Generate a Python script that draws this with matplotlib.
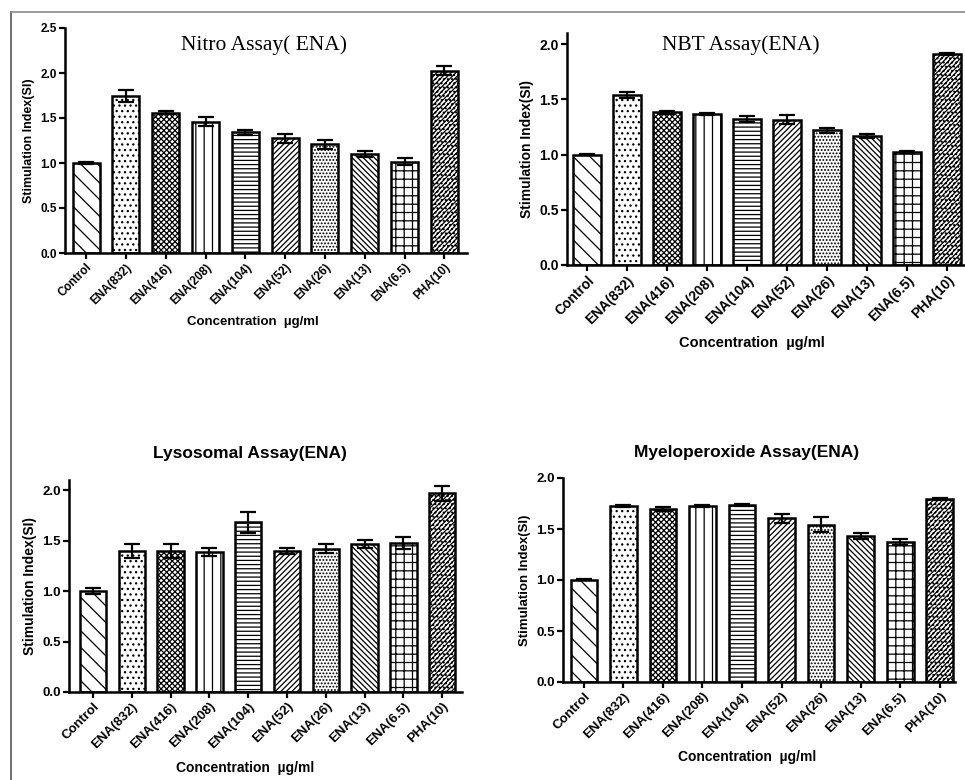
import matplotlib
matplotlib.use('Agg')
import matplotlib.pyplot as plt
from matplotlib.lines import Line2D

categories = ['Control', 'ENA(832)', 'ENA(416)', 'ENA(208)', 'ENA(104)',
              'ENA(52)', 'ENA(26)', 'ENA(13)', 'ENA(6.5)', 'PHA(10)']

nitro_si = [1.00, 1.745, 1.56, 1.457, 1.342, 1.276, 1.209, 1.10, 1.013, 2.023]
nitro_err = [0.012, 0.065, 0.02, 0.05, 0.03, 0.05, 0.05, 0.03, 0.04, 0.05]

nbt_si = [1.00, 1.541, 1.381, 1.369, 1.320, 1.317, 1.218, 1.166, 1.021, 1.912]
nbt_err = [0.005, 0.027, 0.012, 0.01, 0.03, 0.04, 0.02, 0.02, 0.01, 0.01]

lyso_si = [1.00, 1.40, 1.40, 1.39, 1.68, 1.395, 1.42, 1.465, 1.48, 1.967]
lyso_err = [0.026, 0.07, 0.07, 0.04, 0.107, 0.03, 0.046, 0.036, 0.06, 0.073]

myelo_si = [1.003, 1.729, 1.696, 1.725, 1.735, 1.605, 1.542, 1.431, 1.376, 1.794]
myelo_err = [0.005, 0.01, 0.015, 0.01, 0.01, 0.045, 0.075, 0.03, 0.03, 0.012]

hatches = ['\\\\', '...', 'xxxxxx', '||', '----', '//////', '.....',
           '\\\\\\\\\\\\', '++', '///////....']

plt.rcParams['hatch.linewidth'] = 0.9
SANS = ['Liberation Sans', 'DejaVu Sans']
SERIF = ['Liberation Serif', 'DejaVu Serif']

W, H = 965, 780
fig = plt.figure(figsize=(W / 100, H / 100), dpi=100)


def px_axes(left, right, top, bottom):
    return fig.add_axes([left / W, 1 - bottom / H, (right - left) / W, (bottom - top) / H])


def draw(ax, vals, errs, ylim, yticks, xlim, tick_fs, ylabel_fs):
    x = list(range(len(categories)))
    bars = ax.bar(x, vals, width=0.68, color='white', edgecolor='black',
                  linewidth=1.8, zorder=2)
    for b, h in zip(bars, hatches):
        b.set_hatch(h)
    ax.errorbar(x, vals, yerr=errs, fmt='none', ecolor='black', elinewidth=1.6,
                capsize=6, capthick=1.6, zorder=3)
    ax.set_ylim(*ylim)
    ax.set_xlim(*xlim)
    ax.set_yticks(yticks)
    ax.set_yticklabels([f'{t:.1f}' for t in yticks], fontfamily=SANS,
                       fontweight='bold', fontsize=tick_fs)
    ax.set_xticks(x)
    ax.set_xticklabels(categories, rotation=45, ha='right', rotation_mode='anchor',
                       fontfamily=SANS, fontweight='bold', fontsize=tick_fs)
    for s in ['top', 'right']:
        ax.spines[s].set_visible(False)
    for s in ['left', 'bottom']:
        ax.spines[s].set_linewidth(1.8)
    ax.tick_params(axis='both', direction='out', length=4, width=1.6, pad=2)
    ax.set_ylabel('Stimulation Index(SI)', fontfamily=SANS, fontweight='bold',
                  fontsize=ylabel_fs, labelpad=4)


# Panel 1: Nitro
ax1 = px_axes(65, 467, 28, 253)
draw(ax1, nitro_si, nitro_err, (0, 2.5), [0, 0.5, 1.0, 1.5, 2.0, 2.5],
     (-0.53, 9.57), 8.5, 9)
fig.text(264 / W, 1 - 45 / H, 'Nitro Assay( ENA)', ha='center', va='center',
         fontfamily=SERIF, fontsize=15.5)
fig.text(253 / W, 1 - 322 / H, 'Concentration  \u00b5g/ml', ha='center', va='center',
         fontfamily=SANS, fontweight='bold', fontsize=9.5)

# Panel 2: NBT
ax2 = px_axes(567, 965, 33, 265)
draw(ax2, nbt_si, nbt_err, (0, 2.1), [0, 0.5, 1.0, 1.5, 2.0],
     (-0.5, 9.45), 10, 10)
fig.text(741 / W, 1 - 45 / H, 'NBT Assay(ENA)', ha='center', va='center',
         fontfamily=SERIF, fontsize=15.5)
fig.text(752 / W, 1 - 343 / H, 'Concentration  \u00b5g/ml', ha='center', va='center',
         fontfamily=SANS, fontweight='bold', fontsize=10.5)

# Panel 3: Lysosomal
ax3 = px_axes(69, 462, 480, 692)
draw(ax3, lyso_si, lyso_err, (0, 2.1), [0, 0.5, 1.0, 1.5, 2.0],
     (-0.62, 9.51), 9.5, 10)
fig.text(250 / W, 1 - 453 / H, 'Lysosomal Assay(ENA)', ha='center', va='center',
         fontfamily=SANS, fontweight='bold', fontsize=12.5)
fig.text(245 / W, 1 - 768 / H, 'Concentration  \u00b5g/ml', ha='center', va='center',
         fontfamily=SANS, fontweight='bold', fontsize=10)

# Panel 4: Myeloperoxide
ax4 = px_axes(563, 955, 478, 682)
draw(ax4, myelo_si, myelo_err, (0, 2.0), [0, 0.5, 1.0, 1.5, 2.0],
     (-0.53, 9.39), 9.5, 9.5)
fig.text(747 / W, 1 - 452 / H, 'Myeloperoxide Assay(ENA)', ha='center', va='center',
         fontfamily=SANS, fontweight='bold', fontsize=12.5)
fig.text(747 / W, 1 - 757 / H, 'Concentration  \u00b5g/ml', ha='center', va='center',
         fontfamily=SANS, fontweight='bold', fontsize=10)

# Outer frame (left and top edges)
fig.add_artist(Line2D([11 / W, 11 / W], [0, 1 - 12 / H], color='#555555', lw=1.2))
fig.add_artist(Line2D([11 / W, 1], [1 - 12 / H, 1 - 12 / H], color='#888888', lw=1.2))

fig.savefig('out.png', dpi=100)
